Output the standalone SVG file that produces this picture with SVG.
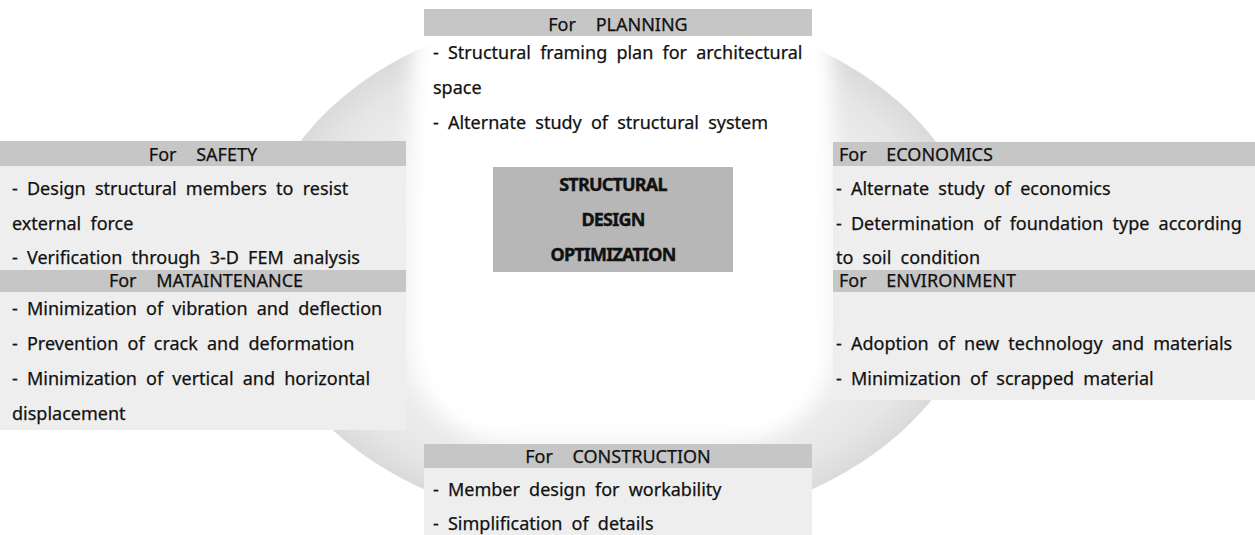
<svg xmlns="http://www.w3.org/2000/svg" width="1255" height="535" viewBox="0 0 1255 535">
  <defs>
    <!-- grey band of the cycle ring, darkest at the rim -->
    <radialGradient id="ringFill" cx="0.5" cy="0.5" r="0.5">
      <stop offset="0" stop-color="#f8f8f8"/>
      <stop offset="0.7" stop-color="#f0f0f0"/>
      <stop offset="0.9" stop-color="#e6e6e6"/>
      <stop offset="1" stop-color="#dadada"/>
    </radialGradient>
    <!-- softens the inner edge of the ring -->
    <filter id="soften" x="-20%" y="-20%" width="140%" height="140%">
      <feGaussianBlur stdDeviation="9"/>
    </filter>
    <style>
      .txt { font-family: "Noto Sans", "Open Sans", sans-serif; font-size: 18px; fill: #111111; stroke: #111111; stroke-width: 0.25px; word-spacing: 4.5px; }
      .head { font-family: "Noto Sans", "Open Sans", sans-serif; font-size: 18px; fill: #111111; stroke: #111111; stroke-width: 0.25px; word-spacing: 15px; }
      .core { font-family: "Noto Sans", "Open Sans", sans-serif; font-size: 18px; font-weight: bold; fill: #111111; stroke: #111111; stroke-width: 0.4px; letter-spacing: -0.8px; text-anchor: middle; }
      .band { fill: #c6c6c6; }
      .panel { fill: #eeeeee; }
      .mid { text-anchor: middle; }
    </style>
  </defs>

  <rect width="1255" height="535" fill="#ffffff"/>

  <!-- cycle ring: grey ellipse with a soft white core -->
  <g id="cycle">
    <ellipse cx="618" cy="268" rx="363" ry="262" fill="url(#ringFill)"/>
    <rect x="412" y="-30" width="420" height="470" rx="95" ry="95" fill="#ffffff" filter="url(#soften)"/>
  </g>

  <!-- top: planning -->
  <g id="node-planning">
    <rect class="band" x="424" y="9" width="388" height="27"/>
    <text class="head mid" x="618" y="31">For PLANNING</text>
    <text class="txt" x="433" y="59">- Structural framing plan for architectural</text>
    <text class="txt" x="433" y="94">space</text>
    <text class="txt" x="433" y="129">- Alternate study of structural system</text>
  </g>

  <!-- left column -->
  <g id="node-safety">
    <rect class="panel" x="0" y="141" width="406" height="129"/>
    <rect class="band" x="0" y="141" width="406" height="25"/>
    <text class="head mid" x="203" y="161">For SAFETY</text>
    <text class="txt" x="12" y="195">- Design structural members to resist</text>
    <text class="txt" x="12" y="230">external force</text>
    <text class="txt" x="12" y="264">- Verification through 3-D FEM analysis</text>
  </g>

  <g id="node-maintenance">
    <rect class="panel" x="0" y="270" width="406" height="160"/>
    <rect class="band" x="0" y="270" width="406" height="22"/>
    <text class="head mid" x="206" y="287">For MATAINTENANCE</text>
    <text class="txt" x="12" y="315">- Minimization of vibration and deflection</text>
    <text class="txt" x="12" y="350">- Prevention of crack and deformation</text>
    <text class="txt" x="12" y="385">- Minimization of vertical and horizontal</text>
    <text class="txt" x="12" y="420">displacement</text>
  </g>

  <!-- centre -->
  <g id="node-core">
    <rect x="493" y="167" width="240" height="105" fill="#b7b7b7"/>
    <text class="core" x="613" y="191">STRUCTURAL</text>
    <text class="core" x="613" y="226">DESIGN</text>
    <text class="core" x="613" y="261">OPTIMIZATION</text>
  </g>

  <!-- right column -->
  <g id="node-economics">
    <rect class="panel" x="833" y="142" width="422" height="128"/>
    <rect class="band" x="833" y="142" width="422" height="24"/>
    <text class="head" x="839" y="161">For ECONOMICS</text>
    <text class="txt" x="836" y="195">- Alternate study of economics</text>
    <text class="txt" x="836" y="230">- Determination of foundation type according</text>
    <text class="txt" x="836" y="264">to soil condition</text>
  </g>

  <g id="node-environment">
    <rect class="panel" x="833" y="270" width="422" height="130"/>
    <rect class="band" x="833" y="270" width="422" height="22"/>
    <text class="head" x="839" y="287">For ENVIRONMENT</text>
    <text class="txt" x="836" y="350">- Adoption of new technology and materials</text>
    <text class="txt" x="836" y="385">- Minimization of scrapped material</text>
  </g>

  <!-- bottom: construction -->
  <g id="node-construction">
    <rect class="panel" x="424" y="444" width="388" height="91"/>
    <rect class="band" x="424" y="444" width="388" height="24"/>
    <text class="head mid" x="618" y="463">For CONSTRUCTION</text>
    <text class="txt" x="433" y="496">- Member design for workability</text>
    <text class="txt" x="433" y="530">- Simplification of details</text>
  </g>
</svg>
